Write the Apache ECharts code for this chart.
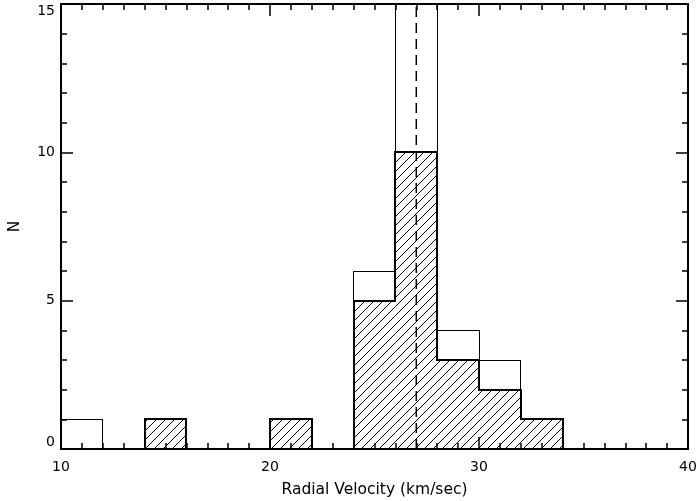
<!DOCTYPE html>
<html>
<head>
<meta charset="utf-8">
<script src="https://cdn.jsdelivr.net/npm/echarts@6/dist/echarts.min.js"></script>
<style>
  html, body { margin: 0; padding: 0; background: #fff; }
  #chart { width: 698px; height: 501px; }
</style>
</head>
<body>
<div id="chart"></div>
<script>
// Histogram bins (left edge, km/sec) and counts per bin
const binWidth = 2;
const binStarts = [10, 12, 14, 16, 18, 20, 22, 24, 26, 28, 30, 32, 34, 36, 38];
const allCounts = [1, 0, 1, 0, 0, 1, 0, 6, 15, 4, 3, 1, 0, 0, 0];
const memberCounts = [0, 0, 1, 0, 0, 1, 0, 5, 10, 3, 2, 1, 0, 0, 0];
const meanVelocity = 27;

const xTicks = [10, 20, 30, 40];
const yTicks = [0, 5, 10, 15];

// Diagonal hatch pattern for the member histogram
function makeHatch(step) {
  const c = document.createElement('canvas');
  c.width = step; c.height = step;
  const g = c.getContext('2d');
  g.strokeStyle = '#000';
  g.lineWidth = 1;
  g.beginPath();
  g.moveTo(0, step); g.lineTo(step, 0);
  g.moveTo(-1, 1); g.lineTo(1, -1);
  g.moveTo(step - 1, step + 1); g.lineTo(step + 1, step - 1);
  g.stroke();
  return c;
}
const hatch = { image: makeHatch(9), repeat: 'repeat' };

// Rows: [left edge, count, count of previous bin]
function binRows(counts) {
  return binStarts.map((b, i) => [b, counts[i], i > 0 ? counts[i - 1] : 0]);
}

// Snap a pixel coordinate so a line of the given width renders crisply
function snap(v, lw) {
  return (Math.round(lw) % 2 === 1) ? Math.floor(v) + 0.5 : Math.round(v);
}

// Filled bins (no outline) for the hatch
function fillSeries(counts, fill, z) {
  return {
    type: 'custom', z: z, silent: true,
    data: binRows(counts),
    renderItem: function (params, api) {
      const x0 = api.value(0), n = api.value(1);
      if (!n) return null;
      const p0 = api.coord([x0, 0]);
      const p1 = api.coord([x0 + binWidth, n]);
      return {
        type: 'rect',
        shape: { x: p0[0], y: p1[1], width: p1[0] - p0[0], height: p0[1] - p1[1] },
        style: { fill: fill, stroke: null }
      };
    }
  };
}

// Stepped histogram outline: riser at each bin's left edge plus its top
function stepSeries(counts, lw, z) {
  const seg = (a, b) => ({
    type: 'line',
    shape: { x1: snap(a[0], lw), y1: snap(a[1], lw), x2: snap(b[0], lw), y2: snap(b[1], lw) },
    style: { stroke: '#000', lineWidth: lw, lineCap: 'square' }
  });
  return {
    type: 'custom', z: z, silent: true,
    data: binRows(counts),
    renderItem: function (params, api) {
      const x0 = api.value(0), n = api.value(1), prev = api.value(2);
      const children = [];
      if (n !== prev) children.push(seg(api.coord([x0, prev]), api.coord([x0, n])));
      if (n > 0) children.push(seg(api.coord([x0, n]), api.coord([x0 + binWidth, n])));
      return { type: 'group', children: children };
    }
  };
}

const labelFont = { fontFamily: 'DejaVu Sans', fontSize: 14, color: '#000' };
const nameFont = { fontFamily: 'DejaVu Sans', fontSize: 15.5, color: '#000' };

function xAxisDef(pos, showLabels, name) {
  return {
    type: 'value', position: pos, min: 10, max: 40, interval: 10,
    name: name, nameLocation: 'middle', nameGap: 33,
    nameTextStyle: nameFont,
    axisLine: { show: true, onZero: false, lineStyle: { color: '#000', width: 2 } },
    axisTick: { show: true, inside: true, length: 12, lineStyle: { color: '#000', width: 1.5 } },
    minorTick: { show: true, splitNumber: 10, length: 6, lineStyle: { color: '#000', width: 1.5 } },
    axisLabel: Object.assign({ show: showLabels, margin: 11,
      formatter: v => (xTicks.indexOf(v) >= 0 ? String(v) : '') }, labelFont),
    splitLine: { show: false }
  };
}

function yAxisDef(pos, showLabels, name) {
  return {
    type: 'value', position: pos, min: 0, max: 15, interval: 5,
    name: name, nameLocation: 'middle', nameGap: 38,
    nameTextStyle: nameFont,
    axisLine: { show: true, onZero: false, lineStyle: { color: '#000', width: 2 } },
    axisTick: { show: true, inside: true, length: 12, lineStyle: { color: '#000', width: 1.5 } },
    minorTick: { show: true, splitNumber: 5, length: 6, lineStyle: { color: '#000', width: 1.5 } },
    axisLabel: Object.assign({ show: showLabels, margin: 6,
      verticalAlignMinLabel: 'bottom', verticalAlignMaxLabel: 'top',
      formatter: v => (yTicks.indexOf(v) >= 0 ? String(v) : '') }, labelFont),
    splitLine: { show: false }
  };
}

const chart = echarts.init(document.getElementById('chart'), null, { renderer: 'canvas' });
chart.setOption({
  animation: false,
  backgroundColor: '#fff',
  grid: { left: 61, right: 10, top: 4, bottom: 52, containLabel: false, outerBoundsMode: 'none' },
  xAxis: [xAxisDef('bottom', true, 'Radial Velocity (km/sec)'), xAxisDef('top', false, '')],
  yAxis: [yAxisDef('left', true, 'N'), yAxisDef('right', false, '')],
  series: [
    fillSeries(memberCounts, hatch, 1),
    stepSeries(allCounts, 1, 2),
    stepSeries(memberCounts, 2, 3),
    {
      type: 'line', z: 4, symbol: 'none', silent: true,
      data: [[meanVelocity, 0], [meanVelocity, 15]],
      lineStyle: { color: '#000', width: 1.5, type: [10, 6] }
    }
  ]
});
</script>
</body>
</html>
